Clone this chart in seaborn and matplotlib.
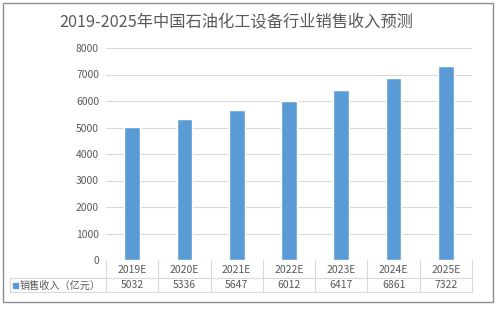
import matplotlib
matplotlib.use("Agg")
import matplotlib.pyplot as plt
import matplotlib.transforms as mtransforms
from matplotlib.patches import Rectangle
import seaborn as sns
import pandas as pd

categories = ["2019E", "2020E", "2021E", "2022E", "2023E", "2024E", "2025E"]
values = [5032, 5336, 5647, 6012, 6417, 6861, 7322]
series_name = "销售收入（亿元）"
title = "2019-2025年中国石油化工设备行业销售收入预测"
yticks = [0, 1000, 2000, 3000, 4000, 5000, 6000, 7000, 8000]

sns.set_theme(style="white")
plt.rcParams["font.family"] = ["Noto Sans CJK SC", "DejaVu Sans"]

W, H = 497, 309
fig = plt.figure(figsize=(W / 100, H / 100), dpi=100)
fig.patch.set_facecolor("white")

# outer border
fig.add_artist(Rectangle((3 / W, 1 - 302 / H), 490 / W, 299 / H, transform=fig.transFigure,
                         fill=False, edgecolor="#8c8c8c", linewidth=1.0))

ax_l, ax_r, ax_t, ax_b = 106, 472, 48, 260
ax = fig.add_axes([ax_l / W, 1 - ax_b / H, (ax_r - ax_l) / W, (ax_b - ax_t) / H])

df = pd.DataFrame({"cat": categories, "val": values})
sns.barplot(data=df, x="cat", y="val", color="#5B9BD5", width=0.3, saturation=1, ax=ax, zorder=3)

ax.set_ylim(0, 8000)
ax.set_xlim(-0.5, len(categories) - 0.5)
ax.set_yticks(yticks)
ax.set_yticklabels([str(t) for t in yticks], fontsize=7.5, color="#595959")
ax.tick_params(axis="y", length=0, pad=5)
ax.set_xticks([])
ax.set_xlabel("")
ax.set_ylabel("")
for s in ax.spines.values():
    s.set_visible(False)
ax.yaxis.grid(True, color="#d9d9d9", linewidth=0.8, zorder=0)
ax.set_axisbelow(True)

# data table
height_px = ax_b - ax_t
def ya(ypix):
    return (ax_b - ypix) / height_px
width_px = ax_r - ax_l
def xa(xpix):
    return (xpix - ax_l) / width_px

blend = mtransforms.blended_transform_factory(ax.transData, ax.transAxes)
lc = "#d9d9d9"
row1_line, bottom_line = 278, 292
for yl in (row1_line, bottom_line):
    ax.plot([xa(10), 1.0], [ya(yl), ya(yl)], transform=ax.transAxes, color=lc,
            linewidth=0.8, clip_on=False)
for i in range(len(categories) + 1):
    ax.plot([i - 0.5, i - 0.5], [0, ya(bottom_line)], transform=blend, color=lc,
            linewidth=0.8, clip_on=False)
ax.plot([xa(10), xa(10)], [ya(row1_line), ya(bottom_line)], transform=ax.transAxes,
        color=lc, linewidth=0.8, clip_on=False)

for i, (c, v) in enumerate(zip(categories, values)):
    ax.text(i, ya(270), c, transform=blend, ha="center", va="center", fontsize=7.5,
            color="#595959", clip_on=False)
    ax.text(i, ya(285.5), str(v), transform=blend, ha="center", va="center", fontsize=7.5,
            color="#595959", clip_on=False)

ax.add_patch(Rectangle((xa(13), ya(288)), 5 / width_px, 5 / height_px, transform=ax.transAxes,
                       color="#5B9BD5", clip_on=False))
ax.text(xa(20), ya(285.5), series_name, transform=ax.transAxes, ha="left", va="center",
        fontsize=7.3, color="#595959", clip_on=False)

fig.text(236.5 / W, 1 - 22 / H, title, ha="center", va="center", fontsize=11.7, color="#595959")

fig.savefig("out.png", dpi=100)
